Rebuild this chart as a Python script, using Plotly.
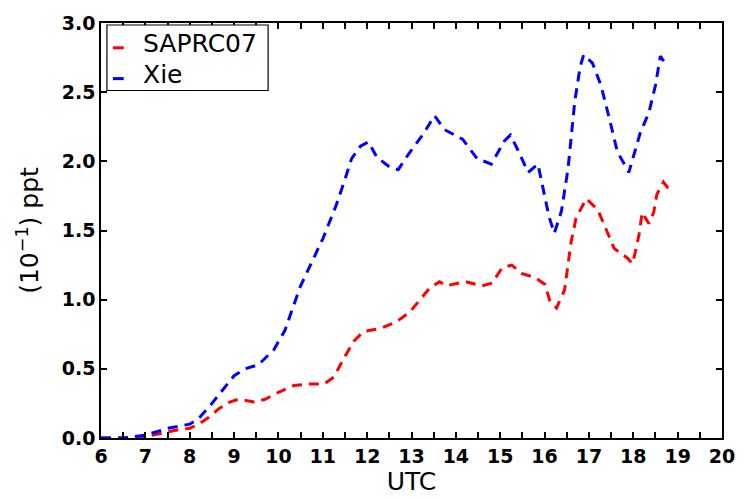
import plotly.graph_objects as go

xie_t = [6.0, 6.5, 7.0, 7.5, 8.0, 8.2, 8.5, 9.0, 9.25, 9.55, 9.9, 10.15, 10.3, 10.5, 11.0, 11.3, 11.5,
         11.65, 11.85, 12.03, 12.22, 12.5, 12.7, 12.95, 13.25, 13.52, 13.74, 14.15, 14.48, 14.8, 15.1,
         15.23, 15.4, 15.63, 15.85, 16.0, 16.1, 16.22, 16.38, 16.53, 16.68, 16.8, 16.88, 17.08, 17.27,
         17.46, 17.64, 17.9, 18.01, 18.16, 18.35, 18.5, 18.61, 18.74]
xie_v = [0.0, 0.0, 0.02, 0.07, 0.10, 0.14, 0.25, 0.45, 0.50, 0.53, 0.64, 0.78, 0.92, 1.10, 1.44, 1.68, 1.87,
         2.02, 2.11, 2.14, 2.03, 1.96, 1.94, 2.06, 2.19, 2.33, 2.23, 2.16, 2.02, 1.98, 2.15,
         2.19, 2.08, 1.92, 1.98, 1.76, 1.60, 1.48, 1.64, 1.95, 2.43, 2.68, 2.77, 2.71, 2.55,
         2.31, 2.07, 1.92, 2.04, 2.21, 2.35, 2.55, 2.76, 2.70]

saprc_t = [6.0, 6.5, 7.0, 7.45, 7.75, 8.0, 8.2, 8.43, 8.65, 8.9, 9.1, 9.45, 9.7, 10.0, 10.35, 10.7, 11.03,
           11.25, 11.48, 11.7, 11.92, 12.29, 12.66, 12.96, 13.4, 13.63, 13.78, 14.22, 14.59, 14.82, 15.04,
           15.26, 15.48, 15.78, 16.01, 16.12, 16.27, 16.45, 16.53, 16.6, 16.71, 16.94, 17.2, 17.42, 17.57,
           17.87, 17.98, 18.05, 18.13, 18.2, 18.35, 18.46, 18.53, 18.68, 18.82]
saprc_v = [0.0, 0.0, 0.01, 0.04, 0.06, 0.07, 0.10, 0.15, 0.21, 0.26, 0.28, 0.26, 0.28, 0.33, 0.38, 0.39, 0.39,
           0.44, 0.58, 0.70, 0.77, 0.79, 0.84, 0.91, 1.08, 1.13, 1.10, 1.13, 1.10, 1.12, 1.23,
           1.25, 1.19, 1.16, 1.11, 0.99, 0.94, 1.07, 1.25, 1.42, 1.59, 1.73, 1.65, 1.49, 1.37,
           1.30, 1.26, 1.35, 1.47, 1.63, 1.55, 1.63, 1.76, 1.85, 1.79]

series_names = ["SAPRC07", "Xie"]
series_colors = ["#ff0000", "#0000ff"]

x_ticks = list(range(6, 21))
y_ticks = [0.0, 0.5, 1.0, 1.5, 2.0, 2.5, 3.0]

fig = go.Figure()
for name, t, v, c in zip(series_names, [saprc_t, xie_t], [saprc_v, xie_v], series_colors):
    fig.add_trace(go.Scatter(x=t, y=v, mode="lines", name=name, showlegend=False,
                             line=dict(color=c, width=3, dash="10px,7px")))

axis_common = dict(showline=True, linecolor="black", linewidth=1.5, mirror="ticks",
                   ticks="inside", ticklen=6, tickwidth=2, tickcolor="black",
                   showgrid=False, zeroline=False,
                   tickfont=dict(family="DejaVu Sans", size=19, color="black", weight="bold"))

fig.update_xaxes(range=[6, 20], tickvals=x_ticks, ticktext=[str(v) for v in x_ticks],
                 minor=dict(dtick=0.5, tick0=6, ticks="inside", ticklen=6, tickwidth=2, tickcolor="black"),
                 title=dict(text="UTC", font=dict(family="DejaVu Sans", size=25, color="black"), standoff=2),
                 **axis_common)
fig.update_yaxes(range=[0, 3.0], tickvals=y_ticks, ticktext=[f"{v:.1f}" for v in y_ticks],
                 title=dict(text="(10<sup>−1</sup>) ppt", font=dict(family="DejaVu Sans", size=25, color="black"), standoff=16),
                 **axis_common)

# Custom legend (box, short dash samples, labels) in plot-area paper coordinates
W, H = 628.0, 418.0
def px_x(p):
    return (p - 101) / W
def px_y(p):
    return (438 - p) / H

shapes = [dict(type="rect", xref="paper", yref="paper",
               x0=px_x(107), x1=px_x(270), y0=px_y(88), y1=px_y(22),
               line=dict(color="black", width=1.2), fillcolor="white", layer="above")]
annotations = []
legend_rows_y = [41, 72]
for name, c, ty in zip(series_names, series_colors, legend_rows_y):
    shapes.append(dict(type="line", xref="paper", yref="paper",
                       x0=px_x(113), x1=px_x(124), y0=px_y(ty + 4), y1=px_y(ty + 4),
                       line=dict(color=c, width=3), layer="above"))
    annotations.append(dict(xref="paper", yref="paper", x=px_x(141), y=px_y(ty),
                            xanchor="left", yanchor="middle", showarrow=False, text=name,
                            font=dict(family="DejaVu Sans", size=25, color="black")))

fig.update_layout(
    width=747, height=500,
    margin=dict(l=101, r=18, t=20, b=62),
    plot_bgcolor="white", paper_bgcolor="white",
    shapes=shapes, annotations=annotations,
    showlegend=False,
)

fig.write_html("out.html")
